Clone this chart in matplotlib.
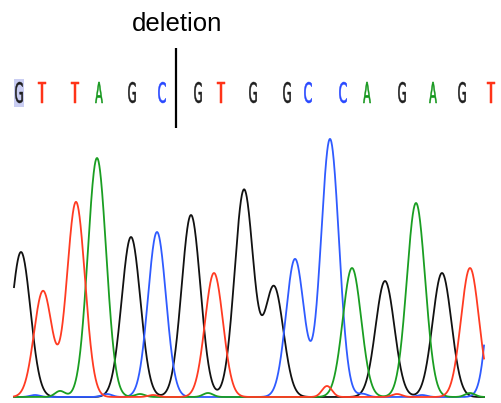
import numpy as np
import matplotlib
matplotlib.use("Agg")
import matplotlib.pyplot as plt
from matplotlib.textpath import TextPath
from matplotlib.patches import PathPatch, Rectangle
from matplotlib.font_manager import FontProperties
import matplotlib.transforms as mtransforms

# ---- data ----
bases = list("GTTAGCGTGGCCAGAGT")
base_pos = [19, 42, 75, 99, 132, 162, 198, 221, 253, 287, 308, 343, 367, 402, 433, 462, 491]
deletion_pos = 176
deletion_label = "deletion"

# peaks per channel: positions (scan units) and intensities
black_pos = [21, 131, 191, 244, 274, 385, 442]
black_h = [145, 160, 182, 207, 110, 116, 124]
red_pos = [43, 76, 153, 214, 327, 397, 470]
red_h = [106, 195, 2, 124, 11, 3, 129]
green_pos = [60, 97, 140, 208, 352, 416, 470]
green_h = [6, 239, 3, 4, 129, 194, 4]
blue_pos = [35, 107, 157, 295, 330, 363, 422, 500]
blue_h = [2, 3, 165, 138, 258, 3, 2, 250]

scan_start, scan_end = 14, 484

colors = {"G": "#1e1e1e", "T": "#ff3318", "A": "#12961a", "C": "#2848ff"}
trace_colors = {"G": "#111111", "T": "#ff3b22", "A": "#1a9e22", "C": "#2f5bff"}

# ---- figure ----
W, H = 501, 403
fig = plt.figure(figsize=(W / 100, H / 100), dpi=100)
ax = fig.add_axes([0, 0, 1, 1])
ax.set_xlim(0, W)
ax.set_ylim(H, 0)
ax.axis("off")

baseline = 397
x = np.linspace(scan_start, scan_end, 2000)


def trace(pos, hts, width):
    y = np.zeros_like(x)
    for p, h in zip(pos, hts):
        s = 5.0 if h < 20 else width
        y += h * np.exp(-((x - p) ** 2) / (2 * s * s))
    return y


channels = [("G", black_pos, black_h, 9.4), ("C", blue_pos, blue_h, 9.0),
            ("A", green_pos, green_h, 9.2), ("T", red_pos, red_h, 9.0)]
for key, pos, hts, wd in channels:
    ax.plot(x, baseline - trace(pos, hts, wd), color=trace_colors[key], lw=1.3,
            solid_joinstyle="round", zorder=3)

# ---- base calls ----
fp = FontProperties(family="DejaVu Sans")
letter_w, letter_h, letter_cy = 7.5, 21.0, 92.5
ax.add_patch(Rectangle((base_pos[0] - 5, 79), 10, 28, facecolor="#c9cdf2",
                       edgecolor="none", zorder=1))
for b, bx in zip(bases, base_pos):
    tp = TextPath((0, 0), b, size=1, prop=fp)
    ext = tp.get_extents()
    tr = (mtransforms.Affine2D()
          .translate(-(ext.x0 + ext.x1) / 2, -(ext.y0 + ext.y1) / 2)
          .scale(letter_w / ext.width, -letter_h / ext.height)
          .translate(bx, letter_cy))
    path = tr.transform_path(tp)
    ax.add_patch(PathPatch(path, facecolor=colors[b], edgecolor=colors[b],
                           lw=0.35, zorder=2))

# ---- deletion marker ----
ax.plot([deletion_pos, deletion_pos], [48, 128], color="black", lw=1.6,
        solid_capstyle="butt", zorder=4)
ax.text(deletion_pos + 1, 31, deletion_label, ha="center", va="baseline",
        fontsize=18.5, family="Liberation Sans", color="black")

fig.savefig("out.png", dpi=100)
